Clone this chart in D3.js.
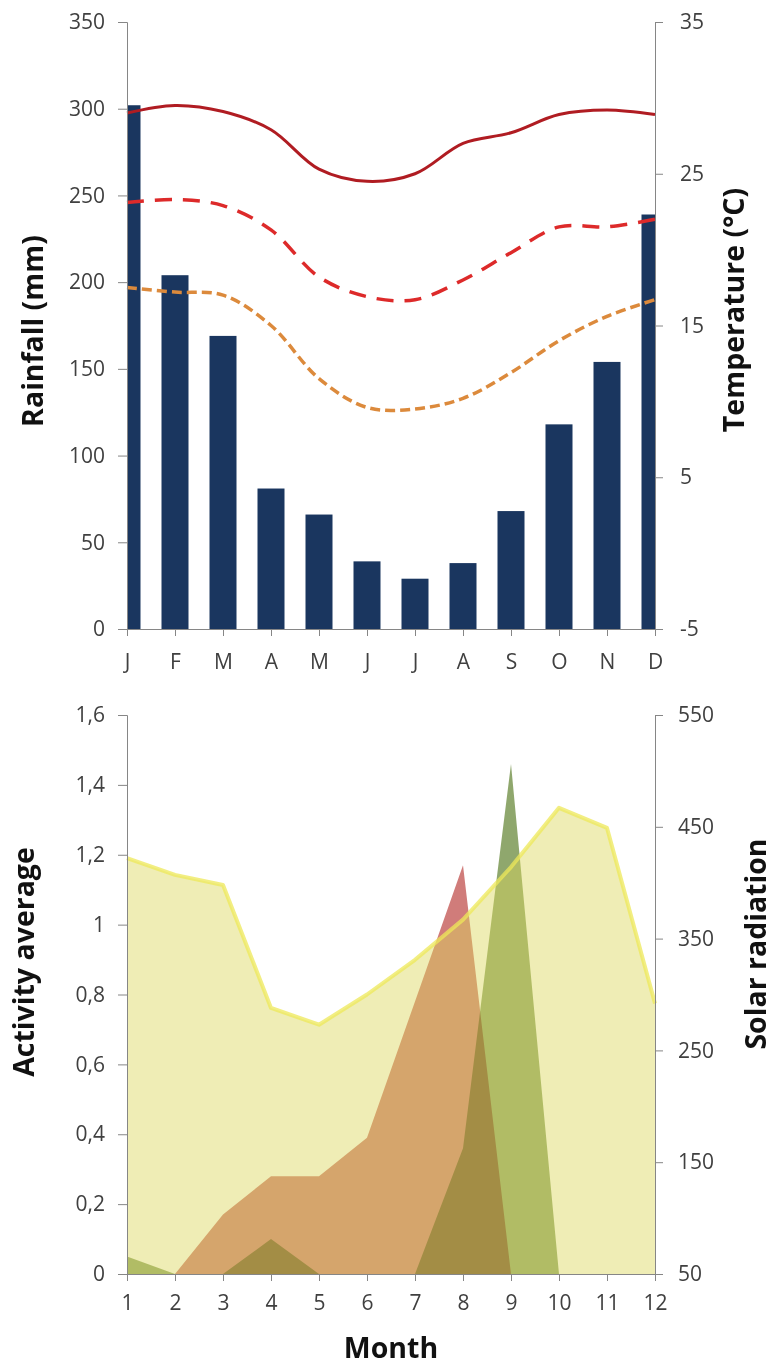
<!DOCTYPE html>
<html>
<head>
<meta charset="utf-8">
<script src="https://cdn.jsdelivr.net/npm/d3@7"></script>
<style>
  body { margin: 0; background: #fff; }
  svg { display: block; }
  .tick text { font-family: "Open Sans", sans-serif; font-size: 21px; fill: #404040; }
  .axis path, .axis line { stroke: #868686; }
  .title { font-family: "Open Sans", sans-serif; font-weight: bold; font-size: 28.5px; fill: #111; }
</style>
</head>
<body>
<div class="chart"></div>
<script>
const width = 773,
      height = 1365;

// ---- data ----
const months = ["J", "F", "M", "A", "M ", "J ", "J  ", "A ", "S", "O", "N", "D"];
const monthLabels = ["J", "F", "M", "A", "M", "J", "J", "A", "S", "O", "N", "D"];
const rainfall = [302, 204, 169, 81, 66, 39, 29, 38, 68, 118, 154, 239];
const tMax  = [29.0, 29.5, 29.1, 27.9, 25.3, 24.5, 25.0, 27.0, 27.7, 28.9, 29.2, 28.9];
const tMean = [23.1, 23.3, 22.9, 21.3, 18.2, 16.9, 16.7, 18.0, 19.8, 21.5, 21.5, 22.0];
const tMin  = [17.5, 17.2, 17.0, 15.0, 11.5, 9.6, 9.5, 10.2, 11.9, 14.0, 15.6, 16.7];
const rainTicks = [0, 50, 100, 150, 200, 250, 300, 350];
const tempTicks = [-5, 5, 15, 25, 35];

const monthNum = [1, 2, 3, 4, 5, 6, 7, 8, 9, 10, 11, 12];
const solar    = [422, 407, 398, 288, 273, 300, 331, 367, 414, 467, 449, 292];
const actRed   = [0, 0, 0.17, 0.28, 0.28, 0.39, 0.78, 1.17, 0, 0, 0, 0];
const actGreen = [0.05, 0, 0, 0.10, 0, 0, 0, 0.36, 1.46, 0, 0, 0];
const actTicks = [0, 0.2, 0.4, 0.6, 0.8, 1, 1.2, 1.4, 1.6];
const solarTicks = [50, 150, 250, 350, 450, 550];

const svg = d3.select(".chart")
              .append("svg")
              .attr("width", width)
              .attr("height", height);

const left = 127, right = 655;
const comma = d3.formatLocale({decimal: ",", thousands: ".", grouping: [3], currency: ["", ""]}).format("~r");

// ---- top chart: rainfall + temperature ----
const x = d3.scalePoint().domain(months).range([left, right]);
const yRain = d3.scaleLinear().domain([0, 350]).range([629, 22]);
const yTemp = d3.scaleLinear().domain([-5, 35]).range([629, 22]);

svg.append("clipPath").attr("id", "plotTop")
   .append("rect").attr("x", left).attr("y", 0).attr("width", right - left).attr("height", 629);

var gTop = svg.append("g").classed("top-chart", true);

gTop.append("g").attr("clip-path", "url(#plotTop)")
   .selectAll("rect").data(rainfall).enter().append("rect")
   .attr("x", (d, i) => x(months[i]) - 13.5)
   .attr("width", 27)
   .attr("y", d => yRain(d))
   .attr("height", d => yRain(0) - yRain(d))
   .attr("fill", "#1a365f");

const tLine = d3.line()
                .x((d, i) => x(months[i]))
                .y(d => yTemp(d))
                .curve(d3.curveCatmullRom.alpha(0.5));

gTop.append("path").datum(tMin).attr("d", tLine)
   .attr("fill", "none").attr("stroke", "#dc8a3c").attr("stroke-width", 3.5)
   .attr("stroke-dasharray", "10,5");
gTop.append("path").datum(tMean).attr("d", tLine)
   .attr("fill", "none").attr("stroke", "#dd2a2a").attr("stroke-width", 3.5)
   .attr("stroke-dasharray", "17,11");
gTop.append("path").datum(tMax).attr("d", tLine)
   .attr("fill", "none").attr("stroke", "#b01c22").attr("stroke-width", 3);

gTop.append("g").attr("class", "axis").attr("transform", "translate(0,629)")
   .call(d3.axisBottom(x).tickSizeInner(7).tickSizeOuter(0).tickPadding(18)
           .tickFormat((d, i) => monthLabels[i]));
gTop.append("g").attr("class", "axis").attr("transform", "translate(" + left + ",0)")
   .call(d3.axisLeft(yRain).tickValues(rainTicks).tickSize(9).tickPadding(13));
gTop.append("g").attr("class", "axis").attr("transform", "translate(" + right + ",0)")
   .call(d3.axisRight(yTemp).tickValues(tempTicks).tickSize(8).tickPadding(17)
           .tickFormat(d => String(d)));

gTop.append("text").attr("class", "title")
   .attr("transform", "translate(43,331)rotate(-90)")
   .attr("text-anchor", "middle").text("Rainfall (mm)");
gTop.append("text").attr("class", "title")
   .attr("transform", "translate(744,310)rotate(-90)")
   .attr("text-anchor", "middle").text("Temperature (°C)");

// ---- bottom chart: activity + solar radiation ----
const xb = d3.scaleLinear().domain([1, 12]).range([left, right]);
const yAct = d3.scaleLinear().domain([0, 1.6]).range([1274, 715]);
const ySol = d3.scaleLinear().domain([50, 550]).range([1274, 715]);

var gBot = svg.append("g").classed("bottom-chart", true);

const actArea = d3.area()
                  .x((d, i) => xb(monthNum[i]))
                  .y0(yAct(0))
                  .y1(d => yAct(d));

gBot.append("path").datum(actGreen).attr("d", actArea)
   .attr("fill", "#6a8a3c").attr("fill-opacity", 0.75);
gBot.append("path").datum(actRed).attr("d", actArea)
   .attr("fill", "#c0504d").attr("fill-opacity", 0.75)
   .style("mix-blend-mode", "multiply");

const solArea = d3.area()
                  .x((d, i) => xb(monthNum[i]))
                  .y0(ySol(50))
                  .y1(d => ySol(d));
gBot.append("path").datum(solar).attr("d", solArea)
   .attr("fill", "#dcd75a").attr("fill-opacity", 0.45);
gBot.append("path").datum(solar).attr("d", solArea.lineY1())
   .attr("fill", "none").attr("stroke", "#eee85a").attr("stroke-width", 4)
   .attr("stroke-opacity", 0.75).attr("stroke-linejoin", "round");

gBot.append("g").attr("class", "axis").attr("transform", "translate(0,1274)")
   .call(d3.axisBottom(xb).tickValues(monthNum).tickSizeInner(7).tickSizeOuter(0).tickPadding(14)
           .tickFormat(d3.format("d")));
gBot.append("g").attr("class", "axis").attr("transform", "translate(" + left + ",0)")
   .call(d3.axisLeft(yAct).tickValues(actTicks).tickSize(9).tickPadding(13).tickFormat(comma));
gBot.append("g").attr("class", "axis").attr("transform", "translate(" + right + ",0)")
   .call(d3.axisRight(ySol).tickValues(solarTicks).tickSize(8).tickPadding(15));

gBot.append("text").attr("class", "title")
   .attr("transform", "translate(34,962)rotate(-90)")
   .attr("text-anchor", "middle").text("Activity average");
gBot.append("text").attr("class", "title")
   .attr("transform", "translate(766,944)rotate(-90)")
   .attr("text-anchor", "middle").text("Solar radiation");
gBot.append("text").attr("class", "title")
   .attr("x", (left + right) / 2).attr("y", 1358)
   .attr("text-anchor", "middle").text("Month");
</script>
</body>
</html>
